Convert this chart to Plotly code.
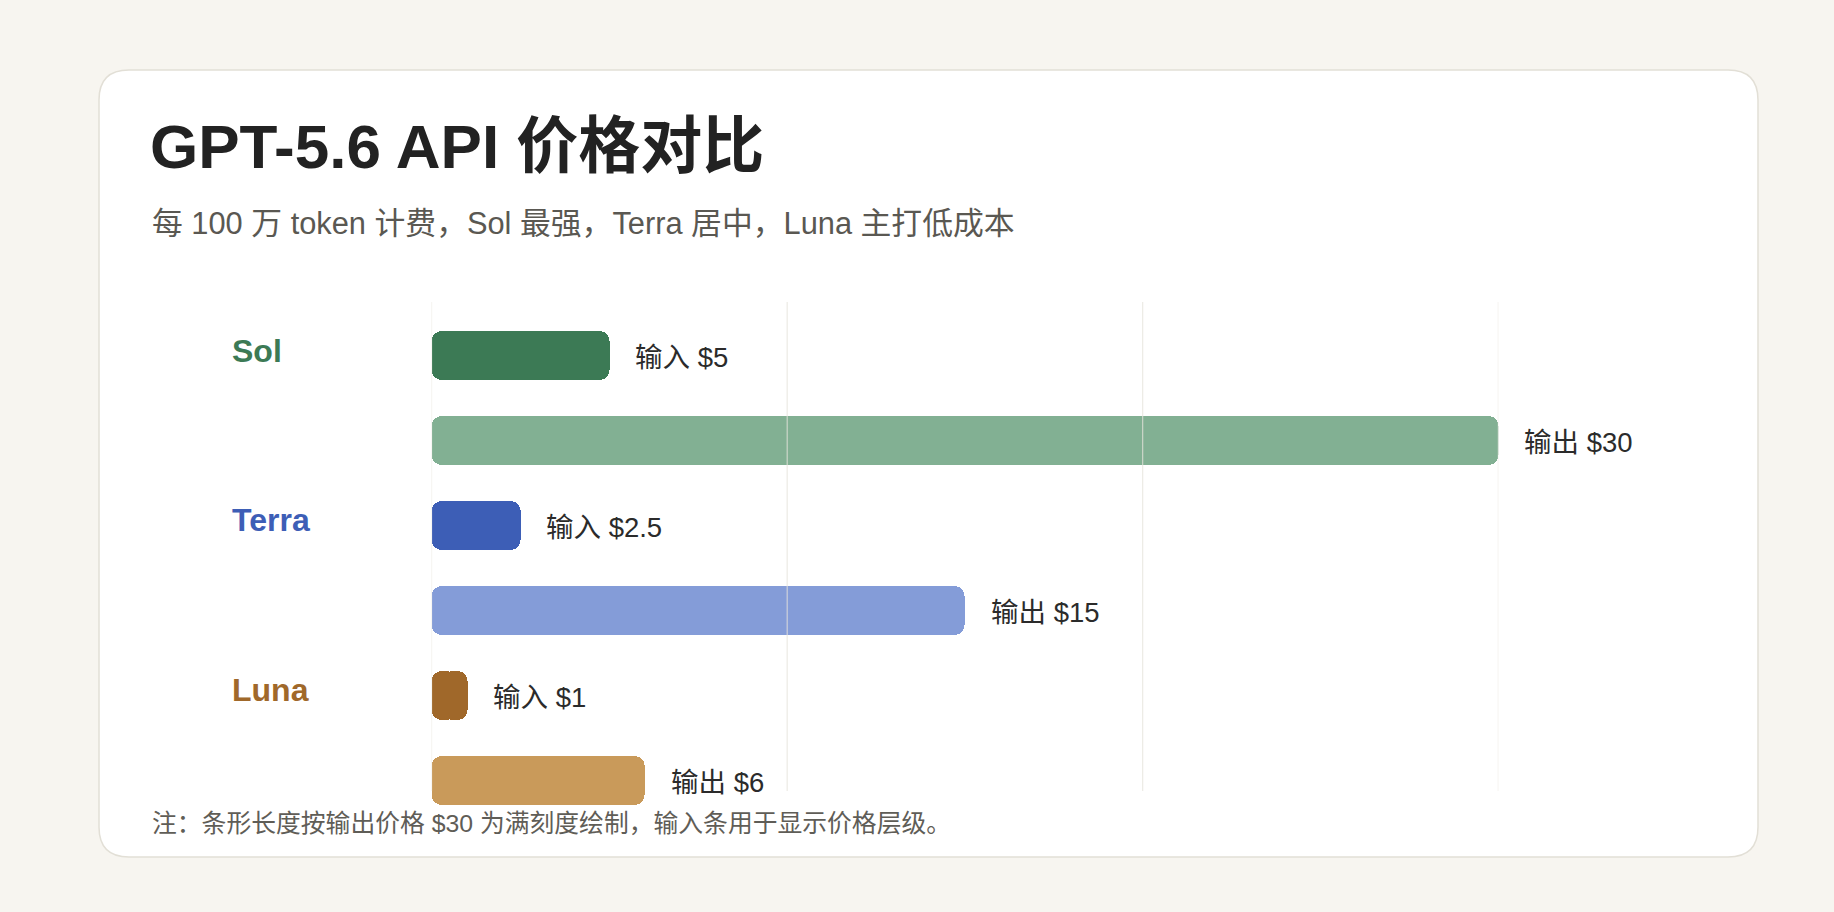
import plotly.graph_objects as go

# ---------------- data ----------------
models = ["Sol", "Terra", "Luna"]
input_price = [5, 2.5, 1]
output_price = [30, 15, 6]
input_colors = ["#3C7A55", "#3D5EB6", "#A0682A"]
output_colors = ["#82B093", "#849CD8", "#C99A5A"]
label_colors = ["#3C7A55", "#3D5EB6", "#A0682A"]
grid_ticks = [0, 10, 20, 30]
x_max = 30

title_text = "GPT-5.6 API 价格对比"
subtitle_text = "每 100 万 token 计费，Sol 最强，Terra 居中，Luna 主打低成本"
note_text = "注：条形长度按输出价格 $30 为满刻度绘制，输入条用于显示价格层级。"

# ---------------- layout constants (pixels) ----------------
W, H = 1834, 912
LATIN = "Liberation Sans, Arial, Helvetica, 'Noto Sans CJK SC', sans-serif"

def px(x):
    return x / W

def py(y):
    return 1 - y / H

# rows: input/output per model
rows, row_vals, row_cols, row_txt = [], [], [], []
for m, vi, vo, ci, co in zip(models, input_price, output_price, input_colors, output_colors):
    rows += [m + " 输入", m + " 输出"]
    row_vals += [vi, vo]
    row_cols += [ci, co]
    row_txt += ["输入 $%g" % vi, "输出 $%g" % vo]

first_c, step = 355.6, 84.9
plot_top, plot_bot = 302, 820
grid_top, grid_bot = 302, 791
y_top = (plot_top - first_c) / step
y_bot = (plot_bot - first_c) / step

# each bar is drawn as two overlapping pieces so both ends get rounded corners
pad = 0.3  # overlap margin in axis units (about one corner radius)
fig = go.Figure()
fig.add_trace(go.Bar(   # left piece: from 0 to v-pad, rounded at 0
    y=rows, x=[-(v - pad) for v in row_vals], base=[v - pad for v in row_vals],
    orientation="h",
    marker=dict(color=row_cols, cornerradius=10, line=dict(width=0)),
    width=0.577, hoverinfo="skip", showlegend=False,
))
fig.add_trace(go.Bar(   # right piece: from pad to v, rounded at v
    y=rows, x=[v - pad for v in row_vals], base=[pad] * len(row_vals),
    orientation="h",
    marker=dict(color=row_cols, cornerradius=10, line=dict(width=0)),
    width=0.577, hoverinfo="skip", showlegend=False,
))

shapes = []
# card background
x0, x1, y0, y1, r = 99, 1758, 70, 857, 30
path = (f"M {px(x0+r)},{py(y0)} L {px(x1-r)},{py(y0)} "
        f"Q {px(x1)},{py(y0)} {px(x1)},{py(y0+r)} "
        f"L {px(x1)},{py(y1-r)} Q {px(x1)},{py(y1)} {px(x1-r)},{py(y1)} "
        f"L {px(x0+r)},{py(y1)} Q {px(x0)},{py(y1)} {px(x0)},{py(y1-r)} "
        f"L {px(x0)},{py(y0+r)} Q {px(x0)},{py(y0)} {px(x0+r)},{py(y0)} Z")
shapes.append(dict(type="path", path=path, xref="paper", yref="paper",
                   fillcolor="#FFFFFF", line=dict(color="#E2DFD6", width=1.5), layer="below"))
for t in grid_ticks:
    shapes.append(dict(type="line", xref="x", yref="paper", x0=t, x1=t,
                       y0=py(grid_bot), y1=py(grid_top),
                       line=dict(color="rgba(230,227,220,0.9)", width=1), layer="above"))

ann = []
ann.append(dict(text="<b>" + title_text + "</b>", xref="paper", yref="paper",
                x=px(148), y=py(146), xanchor="left", yanchor="middle", showarrow=False,
                font=dict(family=LATIN, size=62, color="#222222")))
ann.append(dict(text=subtitle_text, xref="paper", yref="paper",
                x=px(150), y=py(223), xanchor="left", yanchor="middle", showarrow=False,
                font=dict(family=LATIN, size=30.8, color="#5A5852")))
ann.append(dict(text=note_text, xref="paper", yref="paper",
                x=px(150), y=py(823), xanchor="left", yanchor="middle", showarrow=False,
                font=dict(family=LATIN, size=24.8, color="#5F5D57")))
for m, c in zip(models, label_colors):
    ann.append(dict(text="<b>" + m + "</b>", xref="paper", yref="y",
                    x=px(230), y=m + " 输入", xanchor="left", yanchor="middle",
                    yshift=5, showarrow=False,
                    font=dict(family=LATIN, size=32, color=c)))
for rname, v, t in zip(rows, row_vals, row_txt):
    ann.append(dict(text=t, xref="x", yref="y", x=v, y=rname, xanchor="left",
                    yanchor="middle", xshift=24, yshift=-2, showarrow=False,
                    font=dict(family=LATIN, size=27.5, color="#2B2B2B")))

fig.update_layout(
    width=W, height=H, autosize=False,
    margin=dict(l=0, r=0, t=0, b=0, pad=0),
    paper_bgcolor="#F7F5F0", plot_bgcolor="rgba(0,0,0,0)",
    barmode="overlay", bargap=0,
    xaxis=dict(domain=[px(431.6), px(1498.3)], range=[0, x_max], showgrid=False,
               zeroline=False, showticklabels=False, showline=False, fixedrange=True),
    yaxis=dict(domain=[py(plot_bot), py(plot_top)], type="category",
               categoryorder="array", categoryarray=rows,
               range=[y_bot, y_top], showgrid=False, zeroline=False,
               showticklabels=False, showline=False, fixedrange=True),
    shapes=shapes, annotations=ann,
)

fig.write_html("out.html", config={"displayModeBar": False},
               post_script="document.body.style.margin='0px';document.body.style.overflow='hidden';")
